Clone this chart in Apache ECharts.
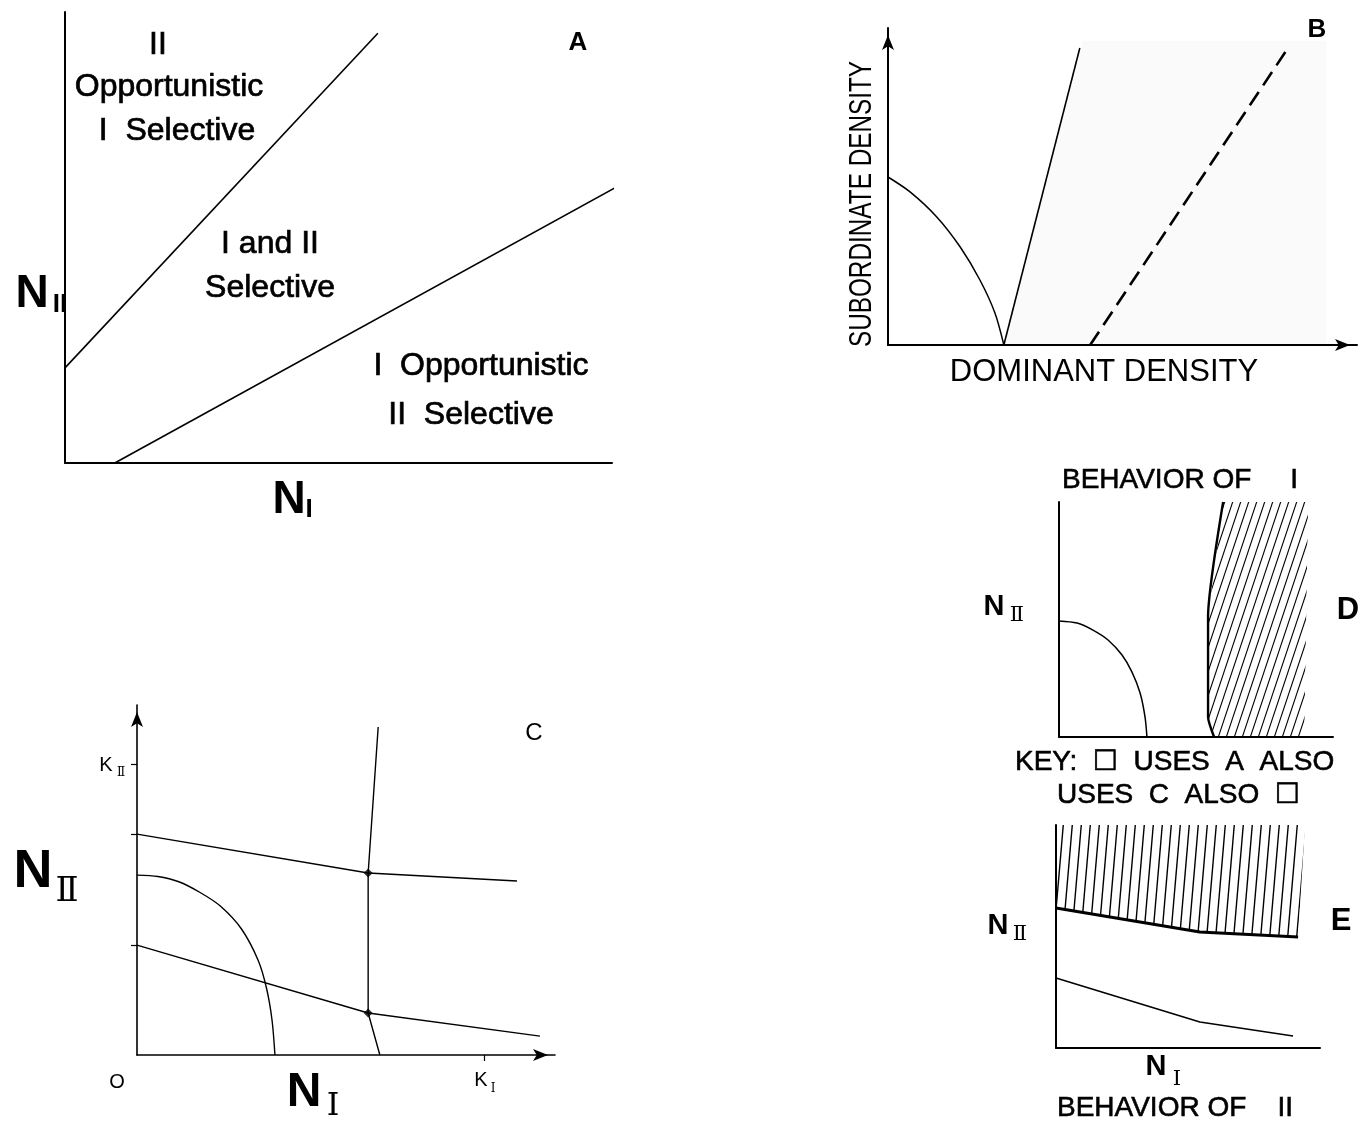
<!DOCTYPE html>
<html>
<head>
<meta charset="utf-8">
<style>
  html, body { margin: 0; padding: 0; background: #fff; }
  #chart { width: 1363px; height: 1127px; }
</style>
<script src="https://cdn.jsdelivr.net/npm/echarts@6/dist/echarts.min.js"></script>
</head>
<body>
<div id="chart"></div>
<script>
// ---- Panel A: regions of selective / opportunistic behaviour (axes 0-100) ----
const aUpperBoundary = [[0, 21.1], [57.2, 95.3]];
const aLowerBoundary = [[9.1, 0], [100.5, 61.0]];

// ---- Panel B: subordinate vs dominant density ----
const bIsocline = [[0, 53.0], [4.7, 48.3], [10.4, 40.4], [15.4, 30.9], [19.6, 20.5], [22.8, 10.1], [24.7, 0]];
const bSolidLine = [[24.7, 0], [40.9, 93.7]];
const bDashedLine = [[43.1, 0], [85.3, 93.7]];
const bShade = [[24.7, 0], [41.6, 96], [93.5, 96], [93.5, 0]];

// ---- Panel C: isoclines with carrying capacities K_I and K_II ----
const cUpperLine = [[0, 63.1], [55.3, 52.0], [90.9, 49.7]];
const cLowerLine = [[0, 31.4], [55.3, 12.0], [96.4, 5.4]];
const cSwitchLine = [[57.7, 93.7], [55.3, 52.0], [55.3, 12.0], [58.1, 0]];
const cCurve = [[0, 51.4], [5, 51], [10, 49.5], [15, 46.5], [20, 42.5], [25, 36], [29, 27], [31, 19], [32.3, 10], [33, 0]];
const cJunctions = [[55.3, 52.0], [55.3, 12.0]];
const cTicksY = [31.4, 63.1, 83];
const cTicksX = [83];

// ---- Panel D: behaviour of species I ----
const dCurve = [[0, 49.4], [6.6, 48.5], [12.4, 45.5], [17.9, 41.3], [23.0, 34.9], [26.6, 27.7], [29.6, 18.7], [31.4, 8.5], [32.1, 0]];
const dBoundary = [[59.9, 100], [54.4, 51.1], [54.4, 8.5], [56.6, 0]];
const dHatchEdge = [[89.5, 0], [90.9, 100]];

// ---- Panel E: behaviour of species II ----
const eBoundary = [[0, 62.8], [54.5, 52.0], [91.7, 49.8]];
const eLowerLine = [[0, 31.4], [54.5, 11.7], [89.8, 5.4]];
const eHatchTop = [[94.3, 100], [0, 100]];

const SANS = '"Liberation Sans", Arial, "DejaVu Sans", sans-serif';
const SERIF = '"DejaVu Serif", "Liberation Serif", serif';

// diagonal hatching tile: one line from bottom-left to top-right corner
function hatchTile(w, h, lw) {
  const c = document.createElement('canvas');
  c.width = w; c.height = h;
  const g = c.getContext('2d');
  g.strokeStyle = '#000';
  g.lineWidth = lw;
  g.lineCap = 'butt';
  [-w, 0, w].forEach(function (off) {
    g.beginPath();
    g.moveTo(off - w, 2 * h);
    g.lineTo(off + 2 * w, -h);
    g.stroke();
  });
  return { image: c, repeat: 'repeat' };
}

const grids = [
  { left: 65, top: 12, width: 547, height: 451 },   // A
  { left: 888, top: 28, width: 469, height: 317 },  // B
  { left: 137, top: 705, width: 418, height: 350 }, // C
  { left: 1059, top: 502, width: 274, height: 235 },// D
  { left: 1056, top: 825, width: 264, height: 223 } // E
];
const arrows = [false, true, true, false, false];
const axisWidth = [2, 2, 1.6, 2, 2];

const xAxes = [], yAxes = [];
grids.forEach(function (g, i) {
  const line = {
    show: true, onZero: false,
    lineStyle: { color: '#000', width: axisWidth[i] },
    symbol: arrows[i] ? ['none', 'arrow'] : ['none', 'none'],
    symbolSize: [9, 15],
    symbolOffset: [0, -7]
  };
  xAxes.push({
    gridIndex: i, type: 'value', min: 0, max: 100,
    axisLine: line,
    axisTick: i === 2 ? { show: true, customValues: cTicksX, length: 6, lineStyle: { color: '#000', width: 1.2 } } : { show: false },
    axisLabel: { show: false }, splitLine: { show: false }
  });
  yAxes.push({
    gridIndex: i, type: 'value', min: 0, max: 100,
    axisLine: line,
    axisTick: i === 2 ? { show: true, customValues: cTicksY, length: 6, lineStyle: { color: '#000', width: 1.2 } } : { show: false },
    axisLabel: { show: false }, splitLine: { show: false }
  });
});

function lineSeries(i, data, width, extra) {
  return Object.assign({
    type: 'line', xAxisIndex: i, yAxisIndex: i, data: data,
    showSymbol: false, symbol: 'none', clip: false, silent: true,
    lineStyle: { color: '#000', width: width }, z: 3
  }, extra || {});
}
function polygonSeries(i, pts, fill, z) {
  return {
    type: 'custom', xAxisIndex: i, yAxisIndex: i, data: [pts[0]],
    silent: true, clip: false, z: z || 1,
    renderItem: function (params, api) {
      return {
        type: 'polygon',
        shape: { points: pts.map(function (p) { return api.coord(p); }) },
        style: { fill: fill, stroke: null }
      };
    }
  };
}

const series = [
  // A
  lineSeries(0, aUpperBoundary, 1.6),
  lineSeries(0, aLowerBoundary, 1.6),
  // B
  polygonSeries(1, bShade, 'rgba(0,0,0,0.018)'),
  lineSeries(1, bIsocline, 1.5, { smooth: 0.3 }),
  lineSeries(1, bSolidLine, 1.6),
  lineSeries(1, bDashedLine, 2.6, { lineStyle: { color: '#000', width: 2.6, type: [16, 8] } }),
  // C
  lineSeries(2, cUpperLine, 1.4),
  lineSeries(2, cLowerLine, 1.4),
  lineSeries(2, cSwitchLine, 1.4),
  lineSeries(2, cCurve, 1.4, { smooth: 0.3 }),
  {
    type: 'scatter', xAxisIndex: 2, yAxisIndex: 2, data: cJunctions,
    symbol: 'diamond', symbolSize: 9, itemStyle: { color: '#000' }, silent: true, z: 4
  },
  // D
  polygonSeries(3, dBoundary.concat(dHatchEdge), hatchTile(8, 24, 1.1)),
  lineSeries(3, dCurve, 1.5, { smooth: 0.3 }),
  lineSeries(3, dBoundary, 2.4, { smooth: 0.2 }),
  // E
  polygonSeries(4, eBoundary.concat(eHatchTop), hatchTile(9, 105, 1.4)),
  lineSeries(4, eBoundary, 3),
  lineSeries(4, eLowerLine, 1.5)
];

// text helper
function txt(text, x, y, size, opt) {
  opt = opt || {};
  return {
    type: 'text', x: x, y: y,
    rotation: opt.rotation || 0,
    scaleX: opt.scaleX || 1,
    z: 10, silent: true,
    style: {
      text: text,
      font: (opt.weight || 'normal') + ' ' + size + 'px ' + (opt.family || SANS),
      fill: '#000',
      textAlign: opt.align || 'center',
      textVerticalAlign: 'middle',
      stroke: opt.stroke ? '#000' : null,
      lineWidth: opt.stroke || 0
    }
  };
}

const graphics = [
  // A region labels
  txt('II', 158, 45, 32, { stroke: 0.7 }),
  txt('Opportunistic', 169, 87, 32, { stroke: 0.7 }),
  txt('I  Selective', 177, 131, 32, { stroke: 0.7 }),
  txt('I and II', 270, 244, 32, { stroke: 0.7 }),
  txt('Selective', 270, 288, 32, { stroke: 0.7 }),
  txt('I  Opportunistic', 481, 366, 32, { stroke: 0.7 }),
  txt('II  Selective', 471, 415, 32, { stroke: 0.7 }),
  txt('A', 578, 43, 26, { weight: 'bold' }),
  txt('N', 32, 294, 46, { weight: 'bold' }),
  txt('II', 60, 305, 26, { weight: 'bold' }),
  txt('N', 289, 500, 46, { weight: 'bold' }),
  txt('I', 309, 510, 26, { weight: 'bold' }),
  // B
  txt('B', 1317, 30, 26, { weight: 'bold' }),
  txt('SUBORDINATE DENSITY', 862, 204, 31, { rotation: Math.PI / 2, scaleX: 0.785 }),
  txt('DOMINANT DENSITY', 1104, 372, 31),
  // C
  txt('C', 534, 733, 24),
  txt('O', 117, 1082, 20),
  txt('K', 481, 1080, 20),
  txt('I', 493, 1089, 12, { family: SERIF }),
  txt('K', 106, 765, 20),
  txt('Ⅱ', 121, 773, 12, { family: SERIF }),
  txt('N', 33, 872, 54, { weight: 'bold' }),
  txt('Ⅱ', 67, 892, 34, { family: SERIF }),
  txt('N', 304, 1093, 48, { weight: 'bold' }),
  txt('Ⅰ', 333, 1107, 32, { family: SERIF }),
  // D
  txt('BEHAVIOR OF     I', 1062, 480, 28, { align: 'left', stroke: 0.6 }),
  txt('N', 994, 607, 29, { weight: 'bold' }),
  txt('Ⅱ', 1017, 616, 21, { family: SERIF }),
  txt('D', 1348, 610, 31, { weight: 'bold' }),
  txt('KEY:  ☐  USES  A  ALSO', 1015, 762, 28, { align: 'left', stroke: 0.6 }),
  txt('USES  C  ALSO  ☐', 1057, 795, 28, { align: 'left', stroke: 0.6 }),
  // E
  txt('N', 998, 926, 29, { weight: 'bold' }),
  txt('Ⅱ', 1020, 935, 21, { family: SERIF }),
  txt('E', 1341, 921, 31, { weight: 'bold' }),
  txt('N', 1156, 1067, 29, { weight: 'bold' }),
  txt('Ⅰ', 1177, 1080, 21, { family: SERIF }),
  txt('BEHAVIOR OF    II', 1057, 1108, 28, { align: 'left', stroke: 0.6 })
];

const chart = echarts.init(document.getElementById('chart'), null, { renderer: 'canvas' });
chart.setOption({
  animation: false,
  backgroundColor: '#fff',
  grid: grids,
  xAxis: xAxes,
  yAxis: yAxes,
  series: series,
  graphic: { elements: graphics }
});
</script>
</body>
</html>
